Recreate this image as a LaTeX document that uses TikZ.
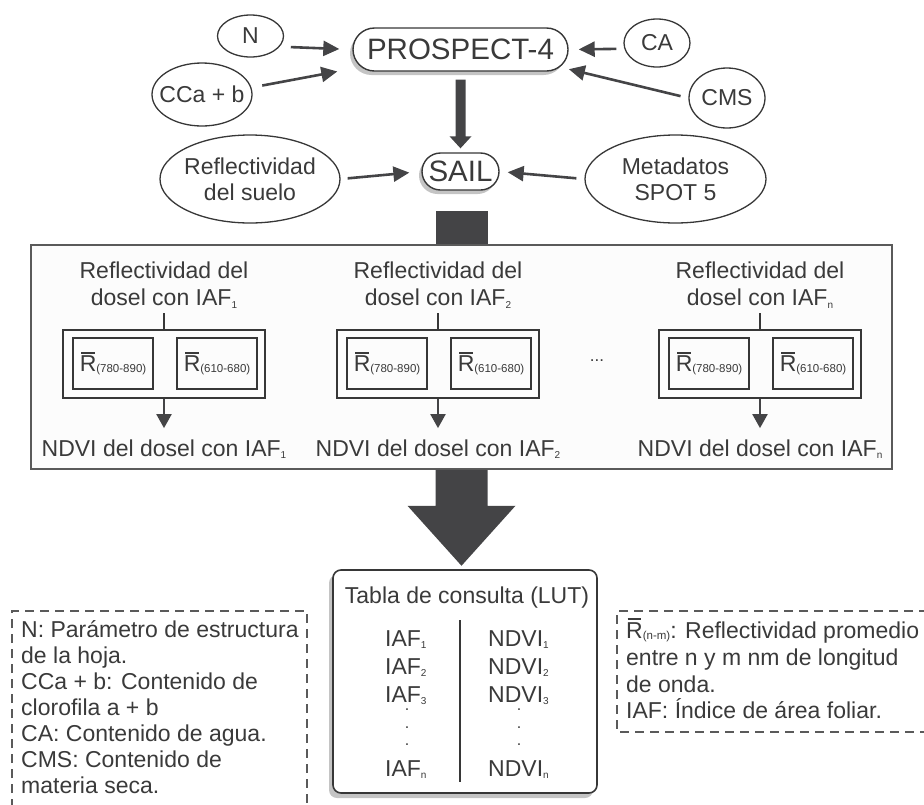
\documentclass[tikz,border=0pt]{standalone}
\usepackage{fontspec}
\setmainfont{Liberation Sans}
\usetikzlibrary{shapes.geometric,shapes.misc,arrows.meta,calc,shadows}

\definecolor{ink}{RGB}{58,58,58}
\definecolor{linec}{RGB}{55,55,55}
\definecolor{dk}{RGB}{68,68,70}
\definecolor{shd}{RGB}{196,196,196}
\definecolor{boxc}{RGB}{90,90,90}
\definecolor{boxfill}{RGB}{252,252,252}

\newcommand{\bodyfont}{\fontsize{23}{26}\selectfont}
\newcommand{\headfont}{\fontsize{23}{27}\selectfont}
\newcommand{\bigfont}{\fontsize{29.5}{32}\selectfont}
\newcommand{\lowsub}[1]{\raisebox{-2.5pt}[0pt][0pt]{\fontsize{10}{10}\selectfont #1}}
\newcommand{\rsub}[1]{\raisebox{-1.5pt}{\fontsize{11.5}{11.5}\selectfont #1}}
\newcommand{\Rbar}{{\setbox0\hbox{R}\rlap{\hspace{0.06em}\raisebox{\dimexpr\ht0+2pt\relax}{\rule{\dimexpr\wd0-0.12em\relax}{1.8pt}}}R}}
\newcommand{\zw}[1]{\makebox[0pt][c]{#1}}
\newcommand{\twol}[2]{\zw{\raisebox{-9.5pt}[0pt][0pt]{\begin{tabular}{@{}c@{}}#1\\#2\end{tabular}}}}

\begin{document}
\begin{tikzpicture}[x=1pt,y=-1pt,font=\bodyfont,text=ink,
 ell/.style={ellipse,draw=linec,line width=1.3pt,inner sep=0pt,fill=white},
 pill/.style={rounded rectangle,draw=linec,line width=1.4pt,fill=white,inner sep=0pt,font=\bigfont,
   drop shadow={shadow xshift=-3pt,shadow yshift=-4pt,fill=shd,opacity=1}},
 arr/.style={draw=dk,line width=2.6pt,-{Triangle[length=16pt,width=15pt]}},
 sarr/.style={draw=dk,line width=2pt,-{Triangle[length=14pt,width=15pt]}},
 grp/.style={draw=linec,line width=1.8pt,inner sep=0pt,minimum width=202pt,minimum height=68pt},
 rbox/.style={draw=linec,line width=1.8pt,inner sep=0pt,minimum width=80pt,minimum height=51pt},
 legbox/.style={draw=boxc,line width=1.3pt,dash pattern=on 9pt off 6pt},
 tx/.style={inner sep=0pt},
 vdots/.style={inner sep=0pt,anchor=north,align=center,font=\fontsize{16}{17.5}\selectfont}
]
\useasboundingbox (0,0) rectangle (924,804);

% ---- top part ----
\node[pill,minimum width=215pt,minimum height=43pt] (P) at (460.5,49.5) {PROSPECT-4};
\node[pill,minimum width=77pt,minimum height=37pt] (S) at (460.5,171.5) {SAIL};

\node[ell,minimum width=66pt,minimum height=42pt] (N) at (250.5,36) {\zw{N}};
\node[ell,minimum width=100pt,minimum height=63pt] (C) at (202,94.5) {\zw{CCa + b}};
\node[ell,minimum width=66pt,minimum height=48pt] (CA) at (657,43) {\zw{CA}};
\node[ell,minimum width=76pt,minimum height=60pt] (CMS) at (727,98) {\zw{CMS}};
\node[ell,minimum width=180pt,minimum height=88pt] (suelo) at (250,179) {\twol{Reflectividad}{del suelo}};
\node[ell,minimum width=181pt,minimum height=88pt] (meta) at (675.5,179) {\twol{Metadatos}{SPOT 5}};

\draw[arr,shorten <=11pt,shorten >=13pt] (N.-20) -- (P.west);
\draw[arr,shorten <=11pt,shorten >=24pt] (C.8) -- (P.190);
\draw[arr,shorten <=8pt,shorten >=10pt] (CA.190) -- (P.east);
\draw[arr,shorten <=8pt,shorten >=9pt] (CMS.west) -- (P.-10);
\draw[arr,shorten <=7pt,shorten >=12pt] (suelo.east) -- (S.west);
\draw[arr,shorten <=8pt,shorten >=8pt] (meta.west) -- (S.east);

\fill[dk] ($(P.south)+(-5,8)$) -- ($(S.north)+(-5,-16)$) -- ($(S.north)+(-11,-16)$)
  -- ($(S.north)+(0,-4)$) -- ($(S.north)+(11,-16)$) -- ($(S.north)+(5,-16)$)
  -- ($(P.south)+(5,8)$) -- cycle;

% ---- main box ----
\node[draw=boxc,line width=1.5pt,fill=boxfill,minimum width=861pt,minimum height=224pt,inner sep=0pt] (main) at (461.5,357) {};
\fill[dk] ($(main.north)+(-26,-33)$) rectangle ($(main.north)+(26,0)$);

\foreach \cx/\k/\nm in {164/1/a,438/2/b,760/n/c}{
  \node[anchor=north,align=center,inner sep=0pt,font=\headfont] (h\nm) at (\cx,262) {Reflectividad del\\dosel con IAF\lowsub{\k}};
  \node[grp] (g\nm) at (\cx,364) {};
  \node[rbox] (ra\nm) at ({\cx-51},363.5) {\Rbar\rsub{(780-890)}};
  \node[rbox] (rb\nm) at ({\cx+53},363.5) {\Rbar\rsub{(610-680)}};
  \draw[draw=linec,line width=2pt,shorten <=7pt] (h\nm.south) -- (g\nm.north);
  \node[anchor=base,inner sep=0pt] (n\nm) at (\cx,456) {NDVI del dosel con IAF\lowsub{\k}};
  \draw[sarr,shorten >=11pt] (g\nm.south) -- (n\nm.north);
}
\node[tx,font=\fontsize{17}{17}\selectfont] (dots) at (597,361) {...};

% ---- LUT ----
\node[draw=linec,line width=1.6pt,rounded corners=8pt,fill=white,minimum width=264pt,minimum height=223pt,inner sep=0pt,
  drop shadow={shadow xshift=-4pt,shadow yshift=-5pt,fill=shd,opacity=1}] (lut) at (465,681.5) {};

% ---- arrow to LUT ----
\fill[dk] ($(main.south)+(-26,0)$) -- ($(main.south)+(-26,36)$) -- ($(main.south)+(-54,36)$)
  -- ($(main.south)+(0,96)$) -- ($(main.south)+(54,36)$) -- ($(main.south)+(26,36)$)
  -- ($(main.south)+(26,0)$) -- cycle;

\node[anchor=base,tx] (lt) at (467,603) {Tabla de consulta (LUT)};
\draw[draw=linec,line width=2pt] (460,620) -- (460,782);
\node[anchor=base west,tx] (i1) at (385,646) {IAF\lowsub{1}};
\node[anchor=base west,tx] (i2) at (385,674) {IAF\lowsub{2}};
\node[anchor=base west,tx] (i3) at (385,702) {IAF\lowsub{3}};
\node[vdots] (idots) at (407,709) {.\\.\\.};
\node[anchor=base west,tx] (in) at (385,776) {IAF\lowsub{n}};
\node[anchor=base west,tx] (v1) at (488,646) {NDVI\lowsub{1}};
\node[anchor=base west,tx] (v2) at (488,674) {NDVI\lowsub{2}};
\node[anchor=base west,tx] (v3) at (488,702) {NDVI\lowsub{3}};
\node[vdots] (vdots) at (519,709) {.\\.\\.};
\node[anchor=base west,tx] (vn) at (488,776) {NDVI\lowsub{n}};

% ---- legends ----
\draw[legbox] (12,808) -- (12,611) -- (307,611) -- (307,808);
\node[anchor=base west,tx] (l1) at (21,637) {N: Parámetro de estructura};
\node[anchor=base west,tx] (l2) at (21,663) {de la hoja.};
\node[anchor=base west,tx] (l3) at (21,689) {CCa + b: Contenido de};
\node[anchor=base west,tx] (l4) at (21,715) {clorofila a + b};
\node[anchor=base west,tx] (l5) at (21,741) {CA: Contenido de agua.};
\node[anchor=base west,tx] (l6) at (21,767) {CMS: Contenido de};
\node[anchor=base west,tx] (l7) at (21,793) {materia seca.};

\draw[legbox] (928,611) -- (617,611) -- (617,732) -- (928,732);
\node[anchor=base west,tx] (m1) at (626,638) {\Rbar\rsub{(n-m)}: Reflectividad promedio};
\node[anchor=base west,tx] (m2) at (626,665) {entre n y m nm de longitud};
\node[anchor=base west,tx] (m3) at (626,692) {de onda.};
\node[anchor=base west,tx] (m4) at (626,718) {IAF: Índice de área foliar.};
\end{tikzpicture}
\end{document}
